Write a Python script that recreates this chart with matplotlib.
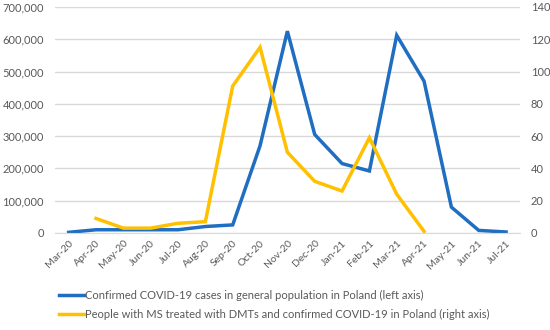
import numpy as np
import matplotlib
matplotlib.use("Agg")
import matplotlib.pyplot as plt

plt.rcParams['font.family'] = ['Lato', 'DejaVu Sans']

months = ['Mar-20', 'Apr-20', 'May-20', 'Jun-20', 'Jul-20', 'Aug-20', 'Sep-20',
          'Oct-20', 'Nov-20', 'Dec-20', 'Jan-21', 'Feb-21', 'Mar-21', 'Apr-21',
          'May-21', 'Jun-21', 'Jul-21']
covid_general = [2000, 10000, 10000, 10000, 10000, 20000, 25000, 270000, 625000,
                 305000, 215000, 192000, 612000, 470000, 80000, 8000, 3000]
ms_dmt = [np.nan, 9, 3, 3, 6, 7, 91, 115, 50, 32, 26, 59, 24, 1,
          np.nan, np.nan, np.nan]

blue = '#1F6EC1'
yellow = '#FFC000'
txt = '#595959'

fig = plt.figure(figsize=(5.5, 3.3), dpi=100)
ax = fig.add_axes([0.1, 0.294, 0.845, 0.685])
ax2 = ax.twinx()

x = np.arange(len(months))
l1, = ax.plot(x, covid_general, color=blue, lw=2.5, solid_joinstyle='miter')
l2, = ax2.plot(x, ms_dmt, color=yellow, lw=2.5, solid_joinstyle='miter')

ax.set_ylim(0, 700000)
ax.set_yticks(np.arange(0, 700001, 100000))
ax.set_yticklabels([f'{v:,}' for v in range(0, 700001, 100000)])
ax2.set_ylim(0, 140)
ax2.set_yticks(np.arange(0, 141, 20))
ax.set_xlim(-0.5, len(months) - 0.5)
ax.set_xticks(x)
ax.set_xticklabels(months, rotation=45, ha='right', rotation_mode='anchor')

ax.grid(axis='y', color='#D9D9D9', lw=1)
ax.set_axisbelow(True)
for a in (ax, ax2):
    for s in a.spines.values():
        s.set_visible(False)
    a.tick_params(length=0, colors=txt, labelsize=8)
ax.spines['bottom'].set_visible(True)
ax.spines['bottom'].set_color('#D9D9D9')
ax.tick_params(axis='x', labelsize=7.5, pad=4)
ax.tick_params(axis='y', pad=8)
ax2.tick_params(axis='y', pad=8)

fig.legend([l1, l2],
           ['Confirmed COVID-19 cases in general population in Poland (left axis)',
            'People with MS treated with DMTs and confirmed COVID-19 in Poland (right axis)'],
           loc='upper left', bbox_to_anchor=(0.1, 0.135), frameon=False,
           fontsize=8, labelcolor=txt, handlelength=2.2, handletextpad=0.1,
           labelspacing=0.7, borderaxespad=0)

fig.savefig('out.png', dpi=100)
